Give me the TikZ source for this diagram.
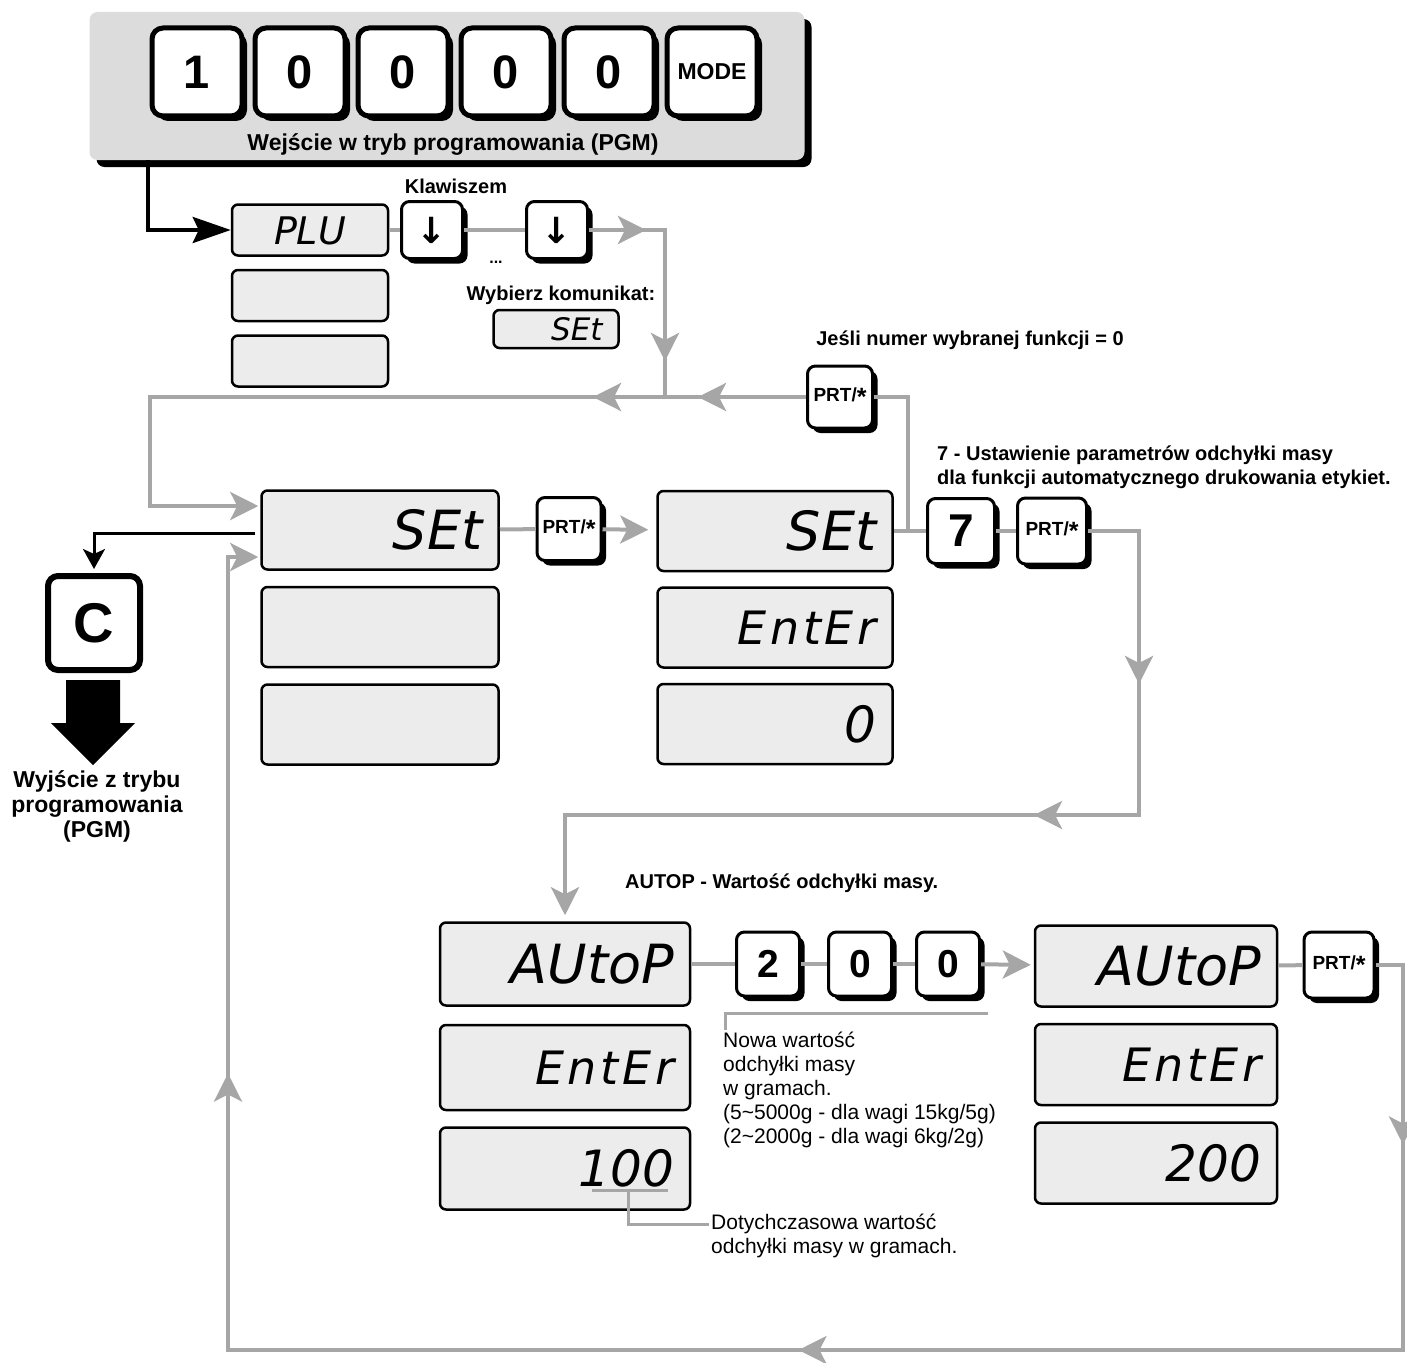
\documentclass[tikz,border=0pt]{standalone}
\usepackage{fontspec}
\setmainfont{Liberation Sans}
\newfontfamily\lcdfont{DejaVu Sans}
\newfontfamily\strzalkafont{DejaVu Sans}
\usepackage{xcolor}
\usepackage{tikz}
\usetikzlibrary{positioning, arrows.meta, shadows, decorations.markings}

\definecolor{liniaszara}{RGB}{166,166,166}
\definecolor{tlolcd}{RGB}{236,236,236}
\definecolor{tlopanel}{RGB}{220,220,220}

\newcommand{\prtlabel}{PRT/\raisebox{-0.2em}{\fontsize{25}{25}\selectfont *}}

\begin{document}
\begin{tikzpicture}[
    x=1pt, y=-1pt,
    klawisz/.style={draw, fill=white, line width=3pt, rounded corners=8pt, inner sep=0pt,
        minimum width=63pt, minimum height=64pt, font=\bfseries\fontsize{39}{39}\selectfont,
        drop shadow={shadow xshift=5pt, shadow yshift=-5pt, fill=black, opacity=1}},
    duzyklawisz/.style={klawisz, line width=5pt, rounded corners=11pt,
        minimum width=90pt, minimum height=88pt, font=\bfseries\fontsize{47}{47}\selectfont},
    prtklawisz/.style={klawisz, font=\bfseries\fontsize{19}{19}\selectfont},
    lcd/.style={draw, fill=tlolcd, line width=2.5pt, rounded corners=6pt,
        inner xsep=16pt, inner ysep=0pt, text width=#1, align=right,
        minimum height=80pt, text height=39pt, text depth=0pt,
        font=\lcdfont\itshape\fontsize{54}{54}\selectfont},
    szara/.style={color=liniaszara, line width=4pt},
    odnosnik/.style={color=liniaszara, line width=3pt},
    czarna/.style={color=black, line width=4pt},
    sgrot/.tip={Stealth[length=28pt, width=28pt, inset=7pt]},
    cgrot/.tip={Stealth[length=38pt, width=26pt, inset=6pt]},
    grot/.style={postaction={decorate, decoration={markings, mark=at position #1 with {\arrow{sgrot}}}}},
    opis/.style={font=\bfseries\fontsize{20}{24}\selectfont, align=left, inner sep=2pt},
    uwaga/.style={font=\fontsize{21}{24}\selectfont, align=left, inner sep=2pt}
]
\useasboundingbox (0,0) rectangle (1407,1362);

% panel wejścia w tryb PGM
\node[fill=tlopanel, rounded corners=8pt, minimum width=715pt, minimum height=148pt,
    drop shadow={shadow xshift=7pt, shadow yshift=-7pt, fill=black, opacity=1}] (panel) at (447,86) {};
\foreach \cyfra [count=\i] in {1,0,0,0,0} {
    \node[duzyklawisz] (pk\i) at (94+103*\i, 72) {\cyfra};
}
\node[duzyklawisz, font=\bfseries\fontsize{23}{23}\selectfont] (mode) at (712,72) {MODE};
\node[opis, font=\bfseries\fontsize{23}{26}\selectfont] (pgm) at (453,145) {Wejście w tryb programowania (PGM)};

% wyświetlacze PLU i przewijanie
\node[lcd=124pt, minimum height=51pt, align=center, text height=28pt,
    font=\lcdfont\itshape\fontsize{38}{38}\selectfont] (plu) at (310,230) {PLU};
\node[lcd=124pt, minimum height=51pt] (plu2) [below=12pt of plu] {};
\node[lcd=124pt, minimum height=51pt] (plu3) [below=12pt of plu2] {};
\node[klawisz, minimum width=61pt, minimum height=57pt,
    font=\strzalkafont\bfseries\fontsize{36}{36}\selectfont] (dn1) at (432,230) {↓};
\node[klawisz, minimum width=61pt, minimum height=57pt,
    font=\strzalkafont\bfseries\fontsize{36}{36}\selectfont] (dn2) at (557,230) {↓};
\node[opis] (klaw) at (456,186) {Klawiszem};
\node[opis, font=\bfseries\fontsize{16}{16}\selectfont] (kropki) at (496,262) {...};
\node[opis] (wyb) at (561,295) {Wybierz komunikat:};
\node[lcd=93pt, minimum height=38pt, text height=22pt,
    font=\lcdfont\itshape\fontsize{31}{31}\selectfont] (setmaly) at (556,329) {SEt};

% klawisz powrotu
\node[prtklawisz, minimum width=65pt, minimum height=62pt] (prt0) at (840,397) {\prtlabel};
\node[opis] (jesli) at (970,340) {Jeśli numer wybranej funkcji = 0};

% SEt
\node[lcd=205pt, minimum height=79pt] (set1) at (380,530) {SEt};
\node[lcd=205pt] (set1b) [below=15pt of set1] {};
\node[lcd=205pt] (set1c) [below=15pt of set1b] {};
\node[prtklawisz, minimum width=64pt, minimum height=63pt] (prt1) at (569,529) {\prtlabel};
\node[lcd=203pt] (set2) at (775,531) {SEt};
\node[lcd=203pt, text height=34pt, font=\lcdfont\itshape\fontsize{46}{46}\selectfont\addfontfeature{LetterSpace=8}] (ent2) [below=14pt of set2] {EntEr};
\node[lcd=203pt, text height=36pt, font=\lcdfont\itshape\fontsize{50}{50}\selectfont] (zero2) [below=14pt of ent2] {0};
\node[klawisz, minimum width=67pt, minimum height=65pt, font=\bfseries\fontsize{46}{46}\selectfont] (k7) at (961,531) {7};
\node[prtklawisz, minimum width=69pt, minimum height=66pt] (prt2) at (1052,531) {\prtlabel};
\node[opis, anchor=west] (opis7) at (935,467) {7 - Ustawienie parametrów odchyłki masy\\dla funkcji automatycznego drukowania etykiet.};
\coordinate (tj) at (908,531);

% wyjście z trybu
\node[draw, fill=white, line width=6pt, rounded corners=10pt, minimum width=92pt, minimum height=94pt,
    font=\bfseries\fontsize{56}{56}\selectfont] (ckey) at (94,623) {C};
\coordinate (wyjscie) at (93,680);
\fill (wyjscie) ++(-27,0) -- ++(54,0) -- ++(0,43) -- ++(15,0) -- ++(-42,42) -- ++(-42,-42) -- ++(15,0) -- cycle;
\node[opis, align=center, font=\bfseries\fontsize{23}{25}\selectfont] (wyjtxt) at (97,806) {Wyjście z trybu\\programowania\\(PGM)};

% AUTOP
\node[opis, anchor=west] (autoptxt) at (623,883) {AUTOP - Wartość odchyłki masy.};
\node[lcd=218pt, minimum height=83pt] (autop1) at (565,964) {AUtoP};
\node[lcd=218pt, minimum height=85pt, text height=34pt, font=\lcdfont\itshape\fontsize{46}{46}\selectfont\addfontfeature{LetterSpace=8}] (ent1) [below=17pt of autop1] {EntEr};
\node[lcd=218pt, minimum height=82pt, text height=36pt, font=\lcdfont\itshape\fontsize{50}{50}\selectfont] (sto) [below=15pt of ent1] {100};
\node[klawisz] (k2) at (768,964) {2};
\node[klawisz] (k0a) at (860,964) {0};
\node[klawisz] (k0b) at (948,964) {0};
\node[lcd=210pt, minimum height=81pt] (autop2) at (1156,966) {AUtoP};
\node[lcd=210pt, minimum height=81pt, text height=34pt, font=\lcdfont\itshape\fontsize{46}{46}\selectfont\addfontfeature{LetterSpace=8}] (ent3) [below=15pt of autop2] {EntEr};
\node[lcd=210pt, minimum height=81pt, text height=36pt, font=\lcdfont\itshape\fontsize{50}{50}\selectfont] (dwiescie) [below=15pt of ent3] {200};
\node[prtklawisz, minimum width=70pt, minimum height=66pt] (prt3) at (1339,965) {\prtlabel};
\node[uwaga, anchor=north west] (nowa) at (721,1030) {Nowa wartość\\odchyłki masy\\w gramach.\\(5\textasciitilde5000g - dla wagi 15kg/5g)\\(2\textasciitilde2000g - dla wagi 6kg/2g)};
\node[uwaga, anchor=north west] (dotych) at (709,1212) {Dotychczasowa wartość\\odchyłki masy w gramach.};

% odnośniki
\coordinate (klamra) at (988,1013);
\draw[odnosnik] (klamra) -| ([xshift=4pt]nowa.north west);
\coordinate (podkr1) at (592,1190);
\coordinate (podkr2) at (668,1190);
\coordinate (podkrs) at (628,1190);
\draw[odnosnik] (podkr1) -- (podkr2);
\draw[odnosnik] (podkrs) |- ([yshift=-12pt]dotych.north west);

% wejście do PLU
\coordinate (start) at (148,160);
\draw[czarna, -{cgrot}] (start) |- (plu);

% przewijanie komunikatów
\draw[szara] (plu) -- (dn1);
\draw[szara] (dn1) -- (dn2);
\coordinate (wezel) at (665,397);
\draw[szara, grot=57pt, grot=207pt] (dn2) -| (wezel);

% powrót do SEt
\draw[szara] (tj) |- (prt0);
\coordinate (lewy) at (150,397);
\draw[szara, -{sgrot}, shorten >=2pt, grot=108pt, grot=213pt] (prt0) -- (lewy) |- ([yshift=24pt]set1.west);

% SEt -> PRT -> SEt -> 7 -> PRT
\draw[szara] (set1) -- (prt1);
\draw[szara, -{sgrot}, shorten >=8pt] (prt1) -- (set2);
\draw[szara] (set2) -- (k7);
\draw[szara] (k7) -- (prt2);

% do AUTOP
\coordinate (prawy) at (1139,815);
\draw[szara, -{sgrot}, shorten >=6pt, grot=204pt, grot=440pt] (prt2) -| (prawy) -| (autop1);

% wpisanie 200
\draw[szara] (autop1) -- (k2);
\draw[szara] (k2) -- (k0a);
\draw[szara] (k0a) -- (k0b);
\draw[szara, -{sgrot}, shorten >=3pt] (k0b) -- (autop2);
\draw[szara] (autop2) -- (prt3);

% pętla powrotu
\coordinate (dolprawy) at (1403,1350);
\coordinate (dollewy) at (228,1350);
\draw[szara, -{sgrot}, shorten >=2pt, grot=207pt, grot=1017pt, grot=1864pt] (prt3) -| (dolprawy) -- (dollewy) |- ([yshift=-27pt]set1.west);

% wyjście klawiszem C
\draw[line width=3pt, -{Stealth[length=20pt, width=22pt, inset=5pt]}, shorten >=4pt] ([yshift=-3pt, xshift=-5pt]set1.west) -| (ckey);

\end{tikzpicture}
\end{document}
